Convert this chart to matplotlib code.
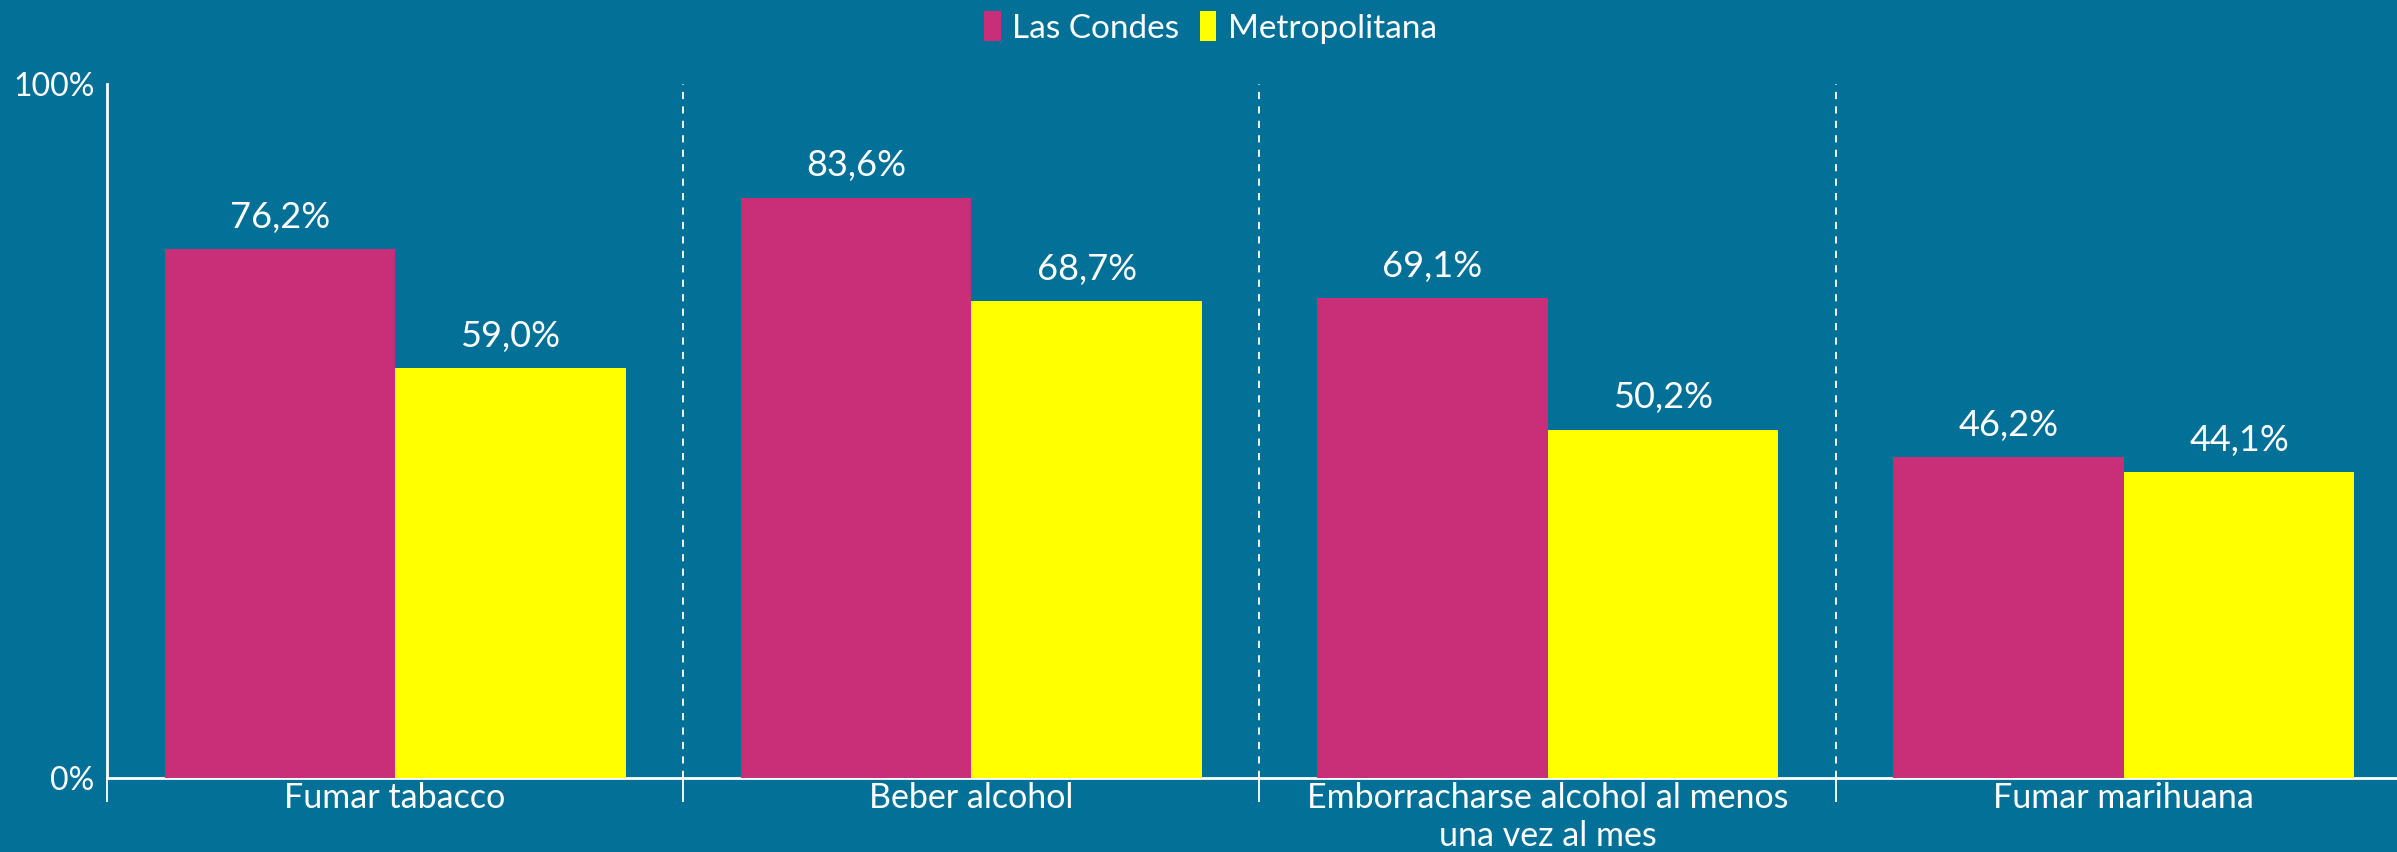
import matplotlib.pyplot as plt
import numpy as np

# data
categories = ["Fumar tabacco", "Beber alcohol",
              "Emborracharse alcohol al menos\nuna vez al mes", "Fumar marihuana"]
las_condes = [76.2, 83.6, 69.1, 46.2]
metropolitana = [59.0, 68.7, 50.2, 44.1]
series_names = ["Las Condes", "Metropolitana"]

bg = "#037098"
pink = "#C92E79"
yellow = "#FFFF00"

plt.rcParams['font.family'] = ['Lato', 'DejaVu Sans']

fig = plt.figure(figsize=(23.97, 8.52), dpi=100)
fig.patch.set_facecolor(bg)
ax = fig.add_axes([0.0446, 0.0869, 0.9554, 0.8146])
ax.set_facecolor(bg)

x = np.arange(len(categories))
w = 0.4
b1 = ax.bar(x - w / 2, las_condes, w, color=pink, label=series_names[0], zorder=3)
b2 = ax.bar(x + w / 2, metropolitana, w, color=yellow, label=series_names[1], zorder=3)

for bars, vals in [(b1, las_condes), (b2, metropolitana)]:
    for rect, v in zip(bars, vals):
        ax.annotate(f"{v:.1f}%".replace(".", ","),
                    (rect.get_x() + rect.get_width() / 2, v),
                    xytext=(0, 11), textcoords="offset points",
                    ha="center", va="bottom", color="white", fontsize=26)

# dashed separators between groups
for s in x[:-1] + 0.5:
    ax.axvline(s, color="white", ls=(0, (4, 4)), lw=1.3, zorder=1)

ax.set_yticks([0, 100])
ax.set_yticklabels(["0%", "100%"], color="white", fontsize=23)
ax.tick_params(axis="y", length=0, pad=9)

ax.set_xticks(np.arange(-0.5, 4, 1))
ax.set_xticklabels([])
ax.tick_params(axis="x", which="major", length=17, width=1.3, color="white", direction="out")
ax.set_xticks(x, minor=True)
ax.set_xticklabels(categories, minor=True, color="white", fontsize=24.5, linespacing=1.22)
ax.tick_params(axis="x", which="minor", length=0, pad=3)

# limits after set_xticks, which would otherwise widen them
ax.set_xlim(-0.5, 3.474)
ax.set_ylim(0, 100)

for side in ["top", "right"]:
    ax.spines[side].set_visible(False)
for side in ["left", "bottom"]:
    ax.spines[side].set_color("white")
    ax.spines[side].set_linewidth(2)
ax.spines["left"].set_zorder(4)

leg = fig.legend(loc="upper center", bbox_to_anchor=(0.505, 1.022), ncol=2, frameon=False,
                 fontsize=24, labelcolor="white", handlelength=0.5, handleheight=1.0,
                 handletextpad=0.35, columnspacing=0.6)

fig.savefig("out.png", dpi=100, facecolor=bg)
